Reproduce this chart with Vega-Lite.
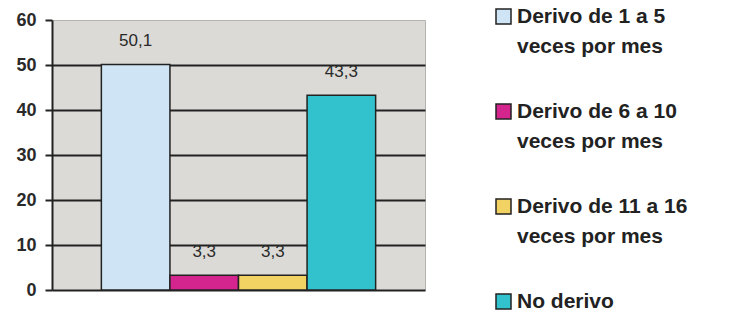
{
  "$schema": "https://vega.github.io/schema/vega-lite/v6.json",
  "width": 373,
  "height": 270,
  "autosize": {"type": "none"},
  "padding": {"left": 52, "top": 20, "right": 310, "bottom": 27},
  "background": "white",
  "config": {
    "locale": {"number": {"decimal": ",", "thousands": ".", "grouping": [3], "currency": ["", " €"]}},
    "font": "Liberation Sans",
    "view": {"fill": "#dcdad7", "stroke": "#b5b3b0", "strokeWidth": 1}
  },
  "data": {
    "values": [
      {"serie": "Derivo de 1 a 5 veces por mes", "pct": 50.1},
      {"serie": "Derivo de 6 a 10 veces por mes", "pct": 3.3},
      {"serie": "Derivo de 11 a 16 veces por mes", "pct": 3.3},
      {"serie": "No derivo", "pct": 43.3}
    ]
  },
  "encoding": {
    "x": {
      "field": "serie", "type": "nominal", "sort": null,
      "scale": {"paddingInner": 0, "paddingOuter": 0.72},
      "axis": {"title": null, "labels": false, "ticks": false, "domainColor": "#222", "domainWidth": 2, "grid": false}
    },
    "y": {
      "field": "pct", "type": "quantitative",
      "scale": {"domain": [0, 60], "nice": false},
      "axis": {
        "title": null, "values": [0, 10, 20, 30, 40, 50, 60],
        "labelFont": "Liberation Sans", "labelFontSize": 18, "labelFontWeight": "bold", "labelColor": "#2a2a2a",
        "labelPadding": 9, "tickSize": 7, "tickColor": "#222", "tickWidth": 2,
        "domainColor": "#222", "domainWidth": 2,
        "grid": true, "gridWidth": 2,
        "gridColor": {"condition": {"test": "datum.value === 60 || datum.value === 0", "value": "transparent"}, "value": "#222"}
      }
    }
  },
  "layer": [
    {
      "mark": {"type": "bar", "stroke": "#222", "strokeWidth": 1.5, "opacity": 1},
      "encoding": {
        "color": {
          "field": "serie", "type": "nominal", "sort": null,
          "scale": {
            "domain": ["Derivo de 1 a 5 veces por mes", "Derivo de 6 a 10 veces por mes", "Derivo de 11 a 16 veces por mes", "No derivo"],
            "range": ["#cfe5f5", "#d4248e", "#f3d264", "#31c2cd"]
          },
          "legend": {
            "title": null, "orient": "none", "legendX": 441, "legendY": -14,
            "symbolType": "square", "symbolSize": 225, "symbolStrokeColor": "#222", "symbolStrokeWidth": 1.5, "symbolOpacity": 1,
            "labelFont": "Liberation Sans", "labelFontSize": 21, "labelFontWeight": "bold", "labelColor": "#222",
            "labelLimit": 300, "labelOffset": 3, "labelBaseline": "middle",
            "labelExpr": "split(replace(datum.label, ' veces', '|veces'), '|')",
            "rowPadding": 43,
            "encode": {"labels": {"update": {"lineHeight": {"value": 30}}}}
          }
        }
      }
    },
    {
      "mark": {"type": "text", "baseline": "middle", "dy": -23.5, "fontSize": 17, "color": "#2a2a2a", "font": "Liberation Sans"},
      "encoding": {
        "text": {"field": "pct", "type": "quantitative", "format": ".1f"}
      }
    }
  ]
}
